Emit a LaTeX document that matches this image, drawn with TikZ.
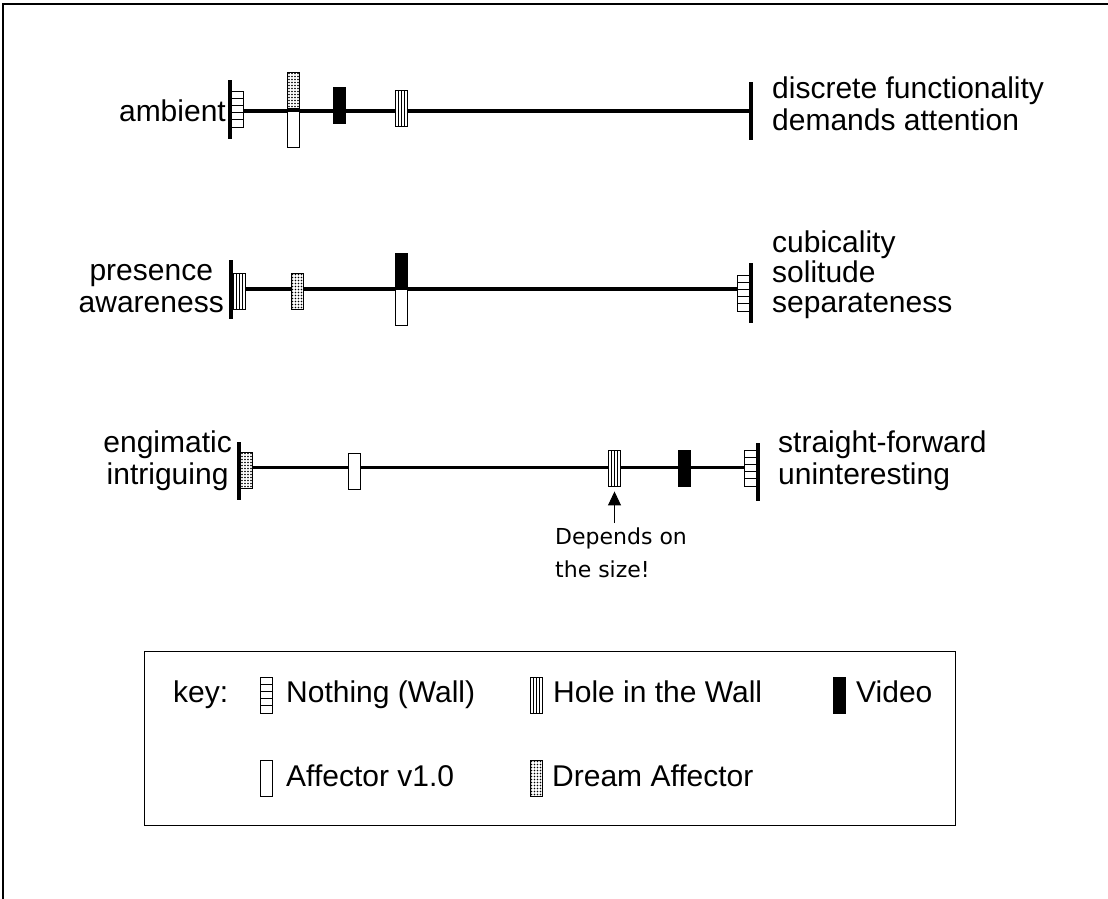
\documentclass[tikz,border=0pt]{standalone}
\usepackage{fontspec}
\setmainfont{Liberation Sans}
\newfontfamily\notefont{DejaVu Sans}
\usetikzlibrary{arrows.meta}

\begin{document}
\begin{tikzpicture}[x=1pt,y=-1pt,
  mk/.style={rectangle, draw, line width=0.9pt, minimum width=12pt,
    minimum height=36pt, inner sep=0pt, fill=white},
  wallmk/.style={mk, path picture={
    \foreach \k in {1,...,4}{
      \draw[line width=0.8pt]
        ([yshift=\k*7.2pt]path picture bounding box.south west) --
        ([yshift=\k*7.2pt]path picture bounding box.south east);}}},
  holemk/.style={mk, path picture={
    \foreach \k in {1,2,3}{
      \draw[line width=0.8pt]
        ([xshift=\k*3pt]path picture bounding box.south west) --
        ([xshift=\k*3pt]path picture bounding box.north west);}}},
  dreammk/.style={mk, path picture={
    \foreach \i in {0,1,2,3}{
      \foreach \j in {0,1,2,3,4,5,6,7,8,9,10,11}{
        \path[fill=black] (path picture bounding box.north west)
          ++(\i*3+1.5,\j*3+1.5) circle[radius=0.8pt];}}}},
  videomk/.style={mk, fill=black},
  affmk/.style={mk},
  axisline/.style={line width=3.5pt},
  endbar/.style={line width=4pt},
  lbl/.style={font=\fontsize{30}{32}\selectfont, inner sep=0pt},
  keytext/.style={font=\fontsize{30}{32}\selectfont, inner sep=0pt, anchor=base west},
  pointer/.style={line width=1pt, -{Triangle[width=13pt,length=14pt]}, shorten >=5pt}
]
\useasboundingbox (0,0) rectangle (1108,899);

% frame
\draw[line width=2pt] (3,899) -- (3,4) -- (1108,4);

% ---------- scale 1: ambient / discrete functionality ----------
\coordinate (a1) at (230,111);
\coordinate (b1) at (751,111);
\draw[axisline] (a1) -- (b1);
\draw[endbar] (230,80) -- (230,139);
\draw[endbar] (751,82) -- (751,140);
\node[wallmk]  (w1) at (237,109) {};
\node[dreammk] (d1) at (293.5,90) {};
\node[affmk]   (f1) at (293.5,129.5) {};
\node[videomk] (v1) at (339,105.5) {};
\node[holemk]  (h1) at (401.7,108.7) {};
\node[lbl, anchor=east, align=center] (l1) at (226,111) {ambient};
\node[lbl, anchor=west, align=left] (r1) at (772,104)
  {discrete functionality\\demands attention};

% ---------- scale 2: presence awareness / cubicality ----------
\coordinate (a2) at (231,289);
\coordinate (b2) at (751,289);
\draw[axisline] (a2) -- (b2);
\draw[endbar] (231,260) -- (231,319);
\draw[endbar] (751,263) -- (751,323);
\node[holemk]  (h2) at (239.5,291) {};
\node[dreammk] (d2) at (297,291) {};
\node[videomk] (v2) at (401.7,271) {};
\node[affmk]   (f2) at (401.7,307) {};
\node[wallmk]  (w2) at (743,293) {};
\node[lbl, anchor=east, align=center] (l2) at (224,289)
  {presence\\awareness};
\node[lbl, anchor=west, align=left, font=\fontsize{30}{30}\selectfont] (r2) at (772,275)
  {cubicality\\solitude\\separateness};

% ---------- scale 3: engimatic intriguing / straight-forward ----------
\coordinate (a3) at (239,467.5);
\coordinate (b3) at (758,467.5);
\draw[axisline] (a3) -- (b3);
\draw[endbar] (239,442) -- (239,500);
\draw[endbar] (758,443) -- (758,501);
\node[dreammk] (d3) at (246.5,470) {};
\node[affmk]   (f3) at (354.5,471) {};
\node[holemk]  (h3) at (614.5,468) {};
\node[videomk] (v3) at (684.7,468) {};
\node[wallmk]  (w3) at (750,468) {};
\node[lbl, anchor=east, align=center] (l3) at (232,461)
  {engimatic\\intriguing};
\node[lbl, anchor=west, align=left] (r3) at (778,461)
  {straight-forward\\uninteresting};

% note under the hole marker
\node[font=\notefont\fontsize{22}{33}\selectfont, align=left, anchor=north west,
  inner xsep=0pt, inner ysep=5pt] (note) at (555,523) {Depends on\\the size!};
\draw[pointer] (note.north -| h3) -- (h3.south);

% ---------- key ----------
\node[draw, line width=1.2pt, minimum width=811pt, minimum height=174pt,
  inner sep=0pt, anchor=north west] (keybox) at (144,651) {};
\node[keytext] (keylbl) at (173,702) {key:};
\node[wallmk]  (kw) at (266,695) {};
\node[keytext] (kwt) at (286,702) {Nothing (Wall)};
\node[holemk]  (kh) at (536,695) {};
\node[keytext] (kht) at (553,702) {Hole in the Wall};
\node[videomk] (kv) at (839,695) {};
\node[keytext] (kvt) at (856,702) {Video};
\node[affmk]   (kf) at (266,778) {};
\node[keytext] (kft) at (286,786) {Affector v1.0};
\node[dreammk] (kd) at (536,778) {};
\node[keytext] (kdt) at (552,786) {Dream Affector};
\end{tikzpicture}
\end{document}
